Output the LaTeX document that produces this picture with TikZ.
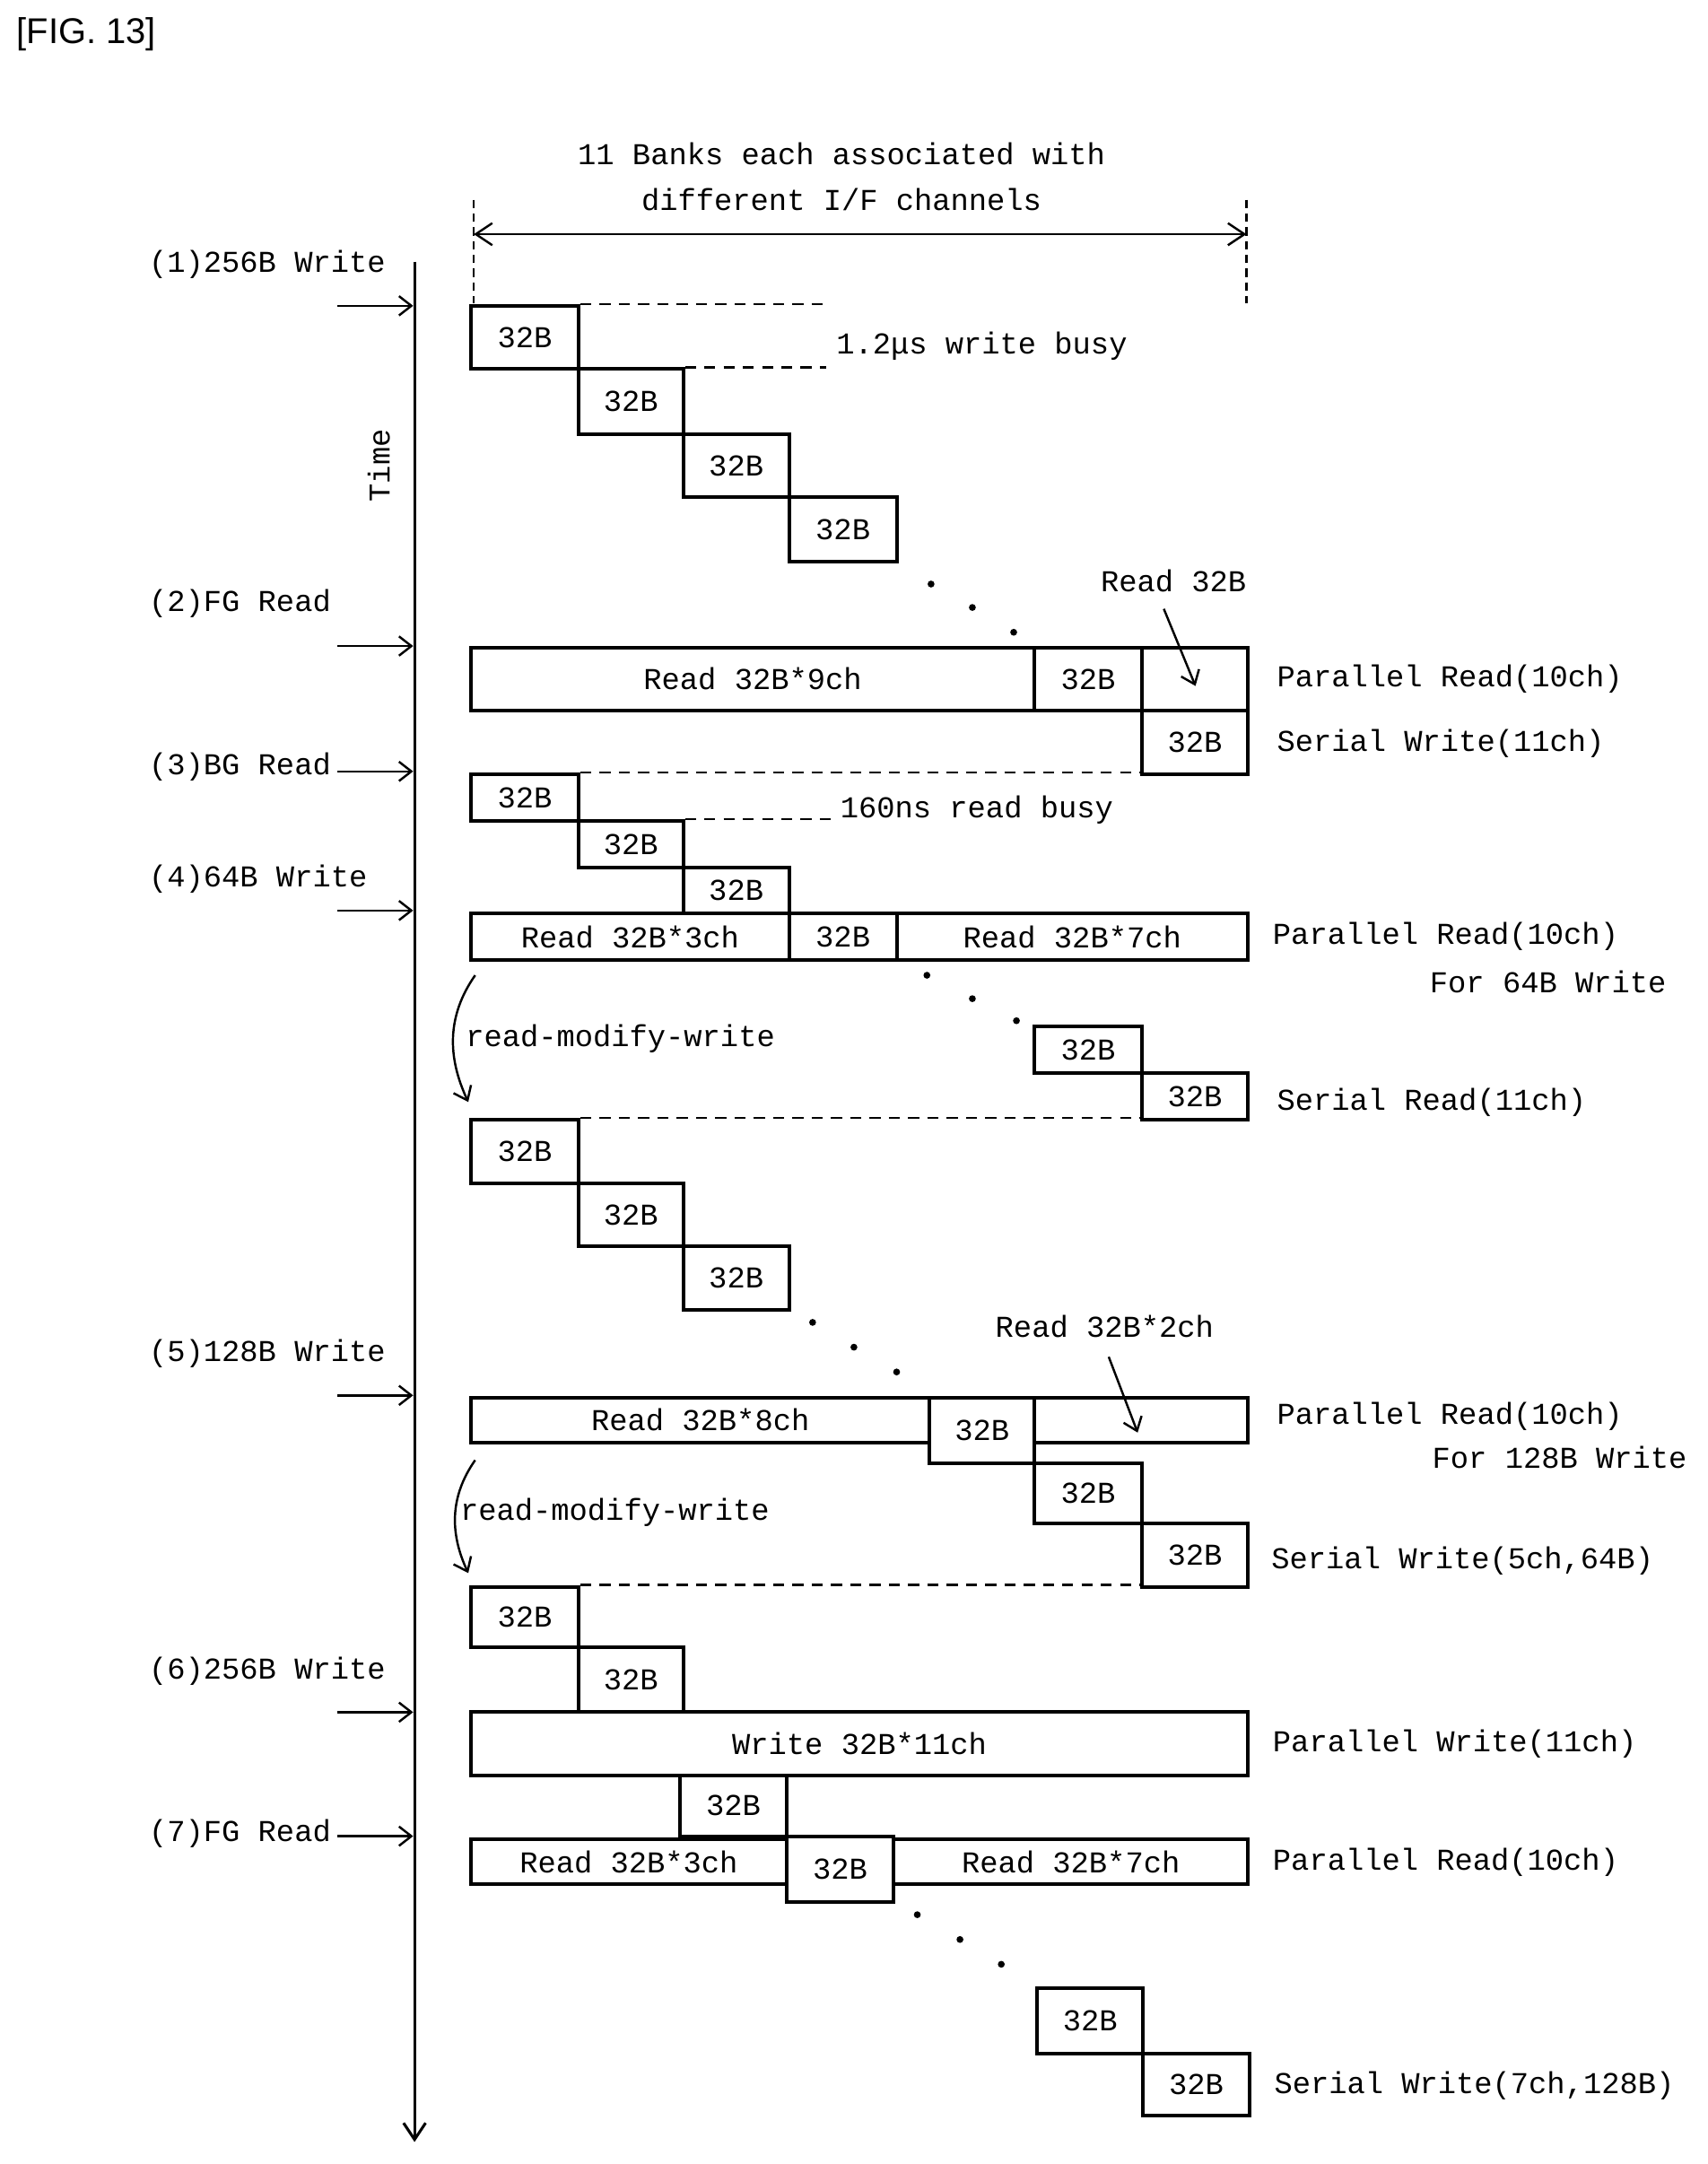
\documentclass[tikz,border=0pt]{standalone}
\usepackage{fontspec}
\setmainfont{Liberation Mono}
\newfontfamily\figfont{Liberation Sans}
\usetikzlibrary{arrows.meta}
\newcommand\bx[6]{\node[box,minimum width={#4-#2},minimum height={#5-#3}] (#1) at ({(#2+#4)/2},{(#3+#5)/2}) {#6};}
\begin{document}
\begin{tikzpicture}[x=1pt,y=-1pt,
  box/.style={draw,line width=2.6pt,inner sep=0pt,font=\fontsize{22}{24}\selectfont},
  lab/.style={anchor=west,inner sep=0pt,font=\fontsize{22}{24}\selectfont},
  arr/.style={line width=1.6pt,-{Straight Barb[length=9pt,width=14pt]}},
  dsh/.style={line width=1.6pt,dash pattern=on 8pt off 6pt},
  dot/.style={circle,fill,inner sep=0pt,minimum size=5pt}]
\useasboundingbox (0,0) rectangle (1240,1571);
\node[anchor=west,inner sep=0pt,font=\figfont\fontsize{26}{28}\selectfont] (fig) at (12,25) {[FIG. 13]};
% time axis
\coordinate (t0) at (301,190); \coordinate (t1) at (301,1555);
\draw[line width=2pt,-{Straight Barb[length=12pt,width=16pt]}] (t0) -- (t1);
\node[lab,anchor=center,rotate=90] (time) at (275,338) {Time};
% top dimension
\node[lab,anchor=center] (h1) at (611,112) {11 Banks each associated with};
\node[lab,anchor=center] (h2) at (611,145) {different I/F channels};
\coordinate (dl0) at (344,145); \coordinate (dl1) at (344,220);
\coordinate (dr0) at (905,145); \coordinate (dr1) at (905,220);
\draw[line width=1.4pt,dash pattern=on 6pt off 4pt] (dl0)--(dl1) (dr0)--(dr1);
\coordinate (da) at (344,170); \coordinate (db) at (905,170);
\draw[line width=1.6pt,{Straight Barb[length=12pt,width=16pt]}-{Straight Barb[length=12pt,width=16pt]}] (da)--(db);
% event labels
\newcommand\ev[4]{\node[lab] (#1) at (108,#2) {#3}; \coordinate (#1a) at (245,#4); \coordinate (#1b) at (300,#4); \draw[arr] (#1a)--(#1b);}
\ev{e1}{192}{(1)256B Write}{222}
\ev{e2}{438}{(2)FG Read}{469}
\ev{e3}{557}{(3)BG Read}{560}
\ev{e4}{638}{(4)64B Write}{661}
\ev{e5}{983}{(5)128B Write}{1013}
\ev{e6}{1213}{(6)256B Write}{1243}
\ev{e7}{1331}{(7)FG Read}{1333}
% (1)
\bx{a1}{342}{222}{420}{268}{32B}
\bx{a2}{420}{268}{496}{315}{32B}
\bx{a3}{496}{315}{573}{361}{32B}
\bx{a4}{573}{361}{651}{408}{32B}
\coordinate (w1) at (600,224); \coordinate (w2) at (600,270);
\draw[dsh] (a1.north east)--(a1.north east -| w1) (a2.north east)--(a2.north east -| w2);
\node[lab] (wb) at (607,251) {1.2μs write busy};
\node[dot] (d1) at (676,424) {}; \node[dot] (d2) at (706,441) {}; \node[dot] (d3) at (736,459) {};
% (2)
\bx{b1}{342}{470}{751}{516}{Read 32B*9ch}
\bx{b2}{751}{470}{829}{516}{32B}
\bx{b3}{829}{470}{906}{516}{}
\bx{b4}{829}{516}{906}{562}{32B}
\node[lab,anchor=center] (r1) at (852,422) {Read 32B};
\coordinate (r1a) at (845,442); \coordinate (r1b) at (868,498);
\draw[arr] (r1a)--(r1b);
\node[lab] (p1) at (927,493) {Parallel Read(10ch)};
\node[lab] (s1) at (927,540) {Serial Write(11ch)};
% (3)
\bx{c1}{342}{562}{420}{596}{32B}
\bx{c2}{420}{596}{496}{630}{32B}
\bx{c3}{496}{630}{573}{663}{32B}
\draw[dsh] (c1.north east)--(c1.north east -| b4.south west);
\coordinate (rb) at (605,598);
\draw[dsh] (c2.north east)--(c2.north east -| rb);
\node[lab] (rbt) at (610,588) {160ns read busy};
% (4)
\bx{f1}{342}{663}{573}{697}{Read 32B*3ch}
\bx{f2}{573}{663}{651}{697}{32B}
\bx{f3}{651}{663}{906}{697}{Read 32B*7ch}
\node[lab] (p2) at (924,680) {Parallel Read(10ch)};
\node[lab,anchor=east] (p2b) at (1210,713) {For 64B Write};
\node[dot] (d4) at (673,708) {}; \node[dot] (d5) at (706,725) {}; \node[dot] (d6) at (738,741) {};
\bx{g1}{751}{745}{829}{779}{32B}
\bx{g2}{829}{779}{906}{813}{32B}
\node[lab] (s2) at (927,800) {Serial Read(11ch)};
\coordinate (m1a) at (345,708); \coordinate (m1b) at (340,800);
\draw[arr] (m1a) to[out=235,in=115] (m1b);
\node[lab] (m1) at (338,754) {read-modify-write};
\bx{h1b}{342}{813}{420}{859}{32B}
\bx{h2b}{420}{859}{496}{905}{32B}
\bx{h3b}{496}{905}{573}{951}{32B}
\draw[dsh] (h1b.north east)--(h1b.north east -| g2.south west);
\node[dot] (d7) at (590,960) {}; \node[dot] (d8) at (620,978) {}; \node[dot] (d9) at (651,996) {};
% (5)
\bx{k1}{342}{1015}{675}{1047}{Read 32B*8ch}
\bx{k3}{751}{1015}{906}{1047}{}
\bx{k2}{675}{1015}{751}{1062}{32B}
\node[lab,anchor=center] (r2) at (802,963) {Read 32B*2ch};
\coordinate (r2a) at (805,985); \coordinate (r2b) at (826,1040);
\draw[arr] (r2a)--(r2b);
\bx{k4}{751}{1062}{829}{1106}{32B}
\bx{k5}{829}{1106}{906}{1152}{32B}
\node[lab] (p3) at (927,1028) {Parallel Read(10ch)};
\node[lab,anchor=east] (p3b) at (1225,1058) {For 128B Write};
\node[lab] (s3) at (923,1133) {Serial Write(5ch,64B)};
\coordinate (m2a) at (345,1060); \coordinate (m2b) at (340,1142);
\draw[arr] (m2a) to[out=235,in=115] (m2b);
\node[lab] (m2) at (334,1098) {read-modify-write};
\bx{n1}{342}{1152}{420}{1196}{32B}
\bx{n2}{420}{1196}{496}{1243}{32B}
\draw[dsh] (n1.north east)--(n1.north east -| k5.south west);
% (6)
\bx{q1}{342}{1243}{906}{1289}{Write 32B*11ch}
\node[lab] (p4) at (924,1266) {Parallel Write(11ch)};
\bx{q2}{494}{1289}{571}{1333}{32B}
% (7)
\bx{u1}{342}{1335}{571}{1368}{Read 32B*3ch}
\bx{u3}{649}{1335}{906}{1368}{Read 32B*7ch}
\bx{u2}{571}{1333}{649}{1381}{32B}
\node[lab] (p5) at (924,1352) {Parallel Read(10ch)};
\node[dot] (d10) at (666,1390) {}; \node[dot] (d11) at (697,1408) {}; \node[dot] (d12) at (727,1426) {};
\bx{v1}{753}{1443}{830}{1491}{32B}
\bx{v2}{830}{1491}{907}{1536}{32B}
\node[lab] (s5) at (925,1514) {Serial Write(7ch,128B)};
\end{tikzpicture}
\end{document}
